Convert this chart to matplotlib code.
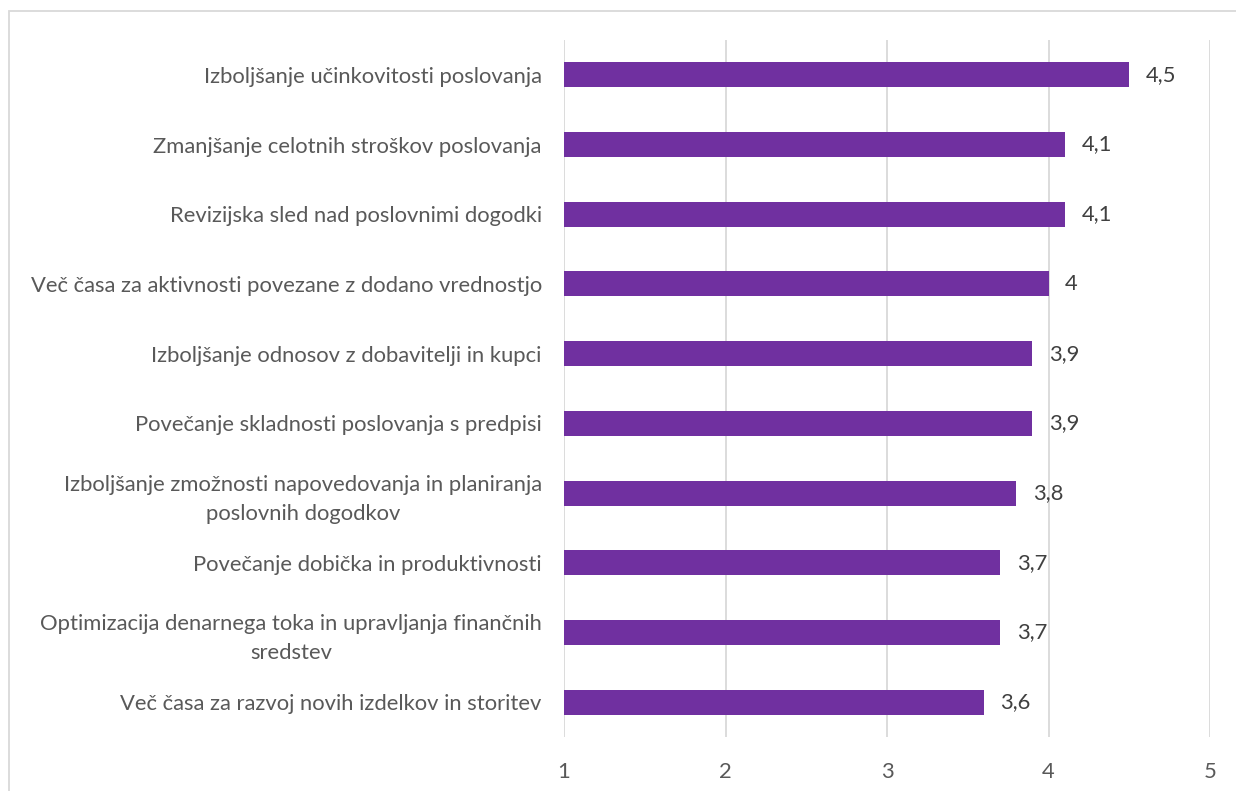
import matplotlib
matplotlib.use("Agg")
import matplotlib.pyplot as plt
from matplotlib.patches import Rectangle

categories = [
    "Izboljšanje učinkovitosti poslovanja",
    "Zmanjšanje celotnih stroškov poslovanja",
    "Revizijska sled nad poslovnimi dogodki",
    "Več časa za aktivnosti povezane z dodano vrednostjo",
    "Izboljšanje odnosov z dobavitelji in kupci",
    "Povečanje skladnosti poslovanja s predpisi",
    "Izboljšanje zmožnosti napovedovanja in planiranja\nposlovnih dogodkov",
    "Povečanje dobička in produktivnosti",
    "Optimizacija denarnega toka in upravljanja finančnih\nsredstev",
    "Več časa za razvoj novih izdelkov in storitev",
]
values = [4.5, 4.1, 4.1, 4.0, 3.9, 3.9, 3.8, 3.7, 3.7, 3.6]
xticks = [1, 2, 3, 4, 5]

plt.rcParams['font.family'] = ['Lato', 'DejaVu Sans']
text_color = '#595959'
bar_color = '#7030A0'
fs = 15.8

fig = plt.figure(figsize=(12.36, 7.91), dpi=100)
ax = fig.add_axes([564/1236, 1-737/791, (1210-564)/1236, (737-40)/791])

ypos = list(range(len(categories)))
ax.barh(ypos, [v - 1 for v in values], left=1, height=0.36, color=bar_color, zorder=3)
ax.set_ylim(len(categories) - 0.5, -0.5)
ax.set_xlim(1, 5)
ax.set_xticks(xticks)
ax.set_xticklabels([str(t) for t in xticks])
ax.set_yticks(ypos)
ax.set_yticklabels(categories, multialignment='center', linespacing=1.55)
ax.tick_params(axis='both', length=0, colors=text_color, labelsize=fs)
ax.tick_params(axis='x', pad=18)
ax.tick_params(axis='y', pad=16)
ax.grid(axis='x', color='#D9D9D9', linewidth=1.3, zorder=0)
for s in ax.spines.values():
    s.set_visible(False)

for y, v in zip(ypos, values):
    ax.annotate(f"{v:g}".replace('.', ','), xy=(v, y), xytext=(12, 0),
                textcoords='offset points', va='center', ha='left',
                color='#404040', fontsize=fs)

fig.patches.append(Rectangle((8.5/1236, -0.1), 1.2, (791-11)/791 + 0.1,
                             transform=fig.transFigure, fill=False,
                             edgecolor='#D9D9D9', linewidth=1.3))

fig.savefig('out.png', dpi=100)
